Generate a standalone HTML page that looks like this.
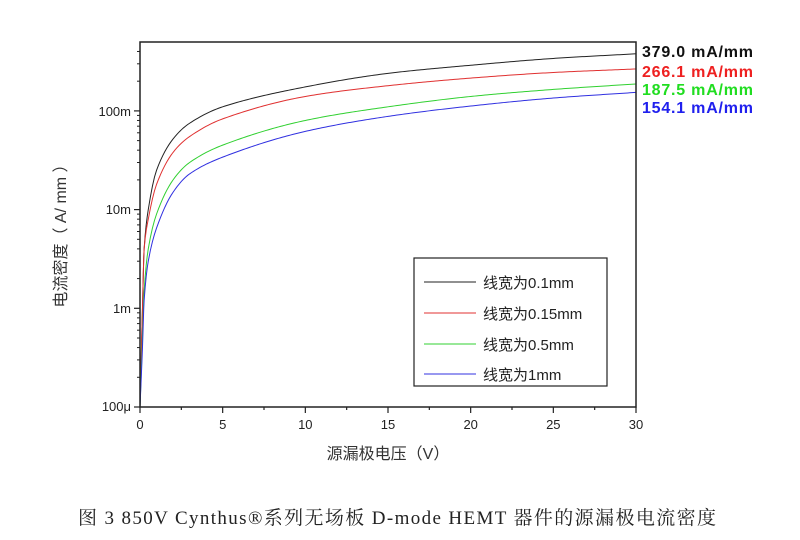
<!DOCTYPE html><html><head><meta charset="utf-8"><style>body{margin:0;background:#fff}svg{display:block}</style></head><body>
<svg id="s" width="800" height="540" xmlns="http://www.w3.org/2000/svg" font-family="Liberation Sans, Noto Sans CJK SC, sans-serif">
<rect width="800" height="540" fill="#fff"/>
<g id="curves" fill="none" stroke-width="1"></g>
<rect x="140" y="42" width="496" height="365" fill="none" stroke="#222" stroke-width="1.5"/>
<g id="ticks" stroke="#222"></g>
<g font-size="13" fill="#222" text-anchor="end">
<text x="131" y="116">100m</text><text x="131" y="214">10m</text><text x="131" y="313">1m</text><text x="131" y="411">100μ</text>
</g>
<g font-size="13" fill="#222" text-anchor="middle">
<text x="140" y="429">0</text><text x="222.7" y="429">5</text><text x="305.3" y="429">10</text><text x="388" y="429">15</text><text x="470.7" y="429">20</text><text x="553.3" y="429">25</text><text x="636" y="429">30</text>
</g>
<text x="388" y="459" font-size="16" fill="#333" text-anchor="middle">源漏极电压（V）</text>
<text transform="translate(66,232) rotate(-90)" font-size="16" fill="#333" text-anchor="middle">电流密度（ A/ mm ）</text>
<rect x="414" y="258" width="193" height="128" fill="#fff" stroke="#222" stroke-width="1.2"/>
<g stroke-width="1"><line x1="424" y1="282" x2="476" y2="282" stroke="#222"/><line x1="424" y1="313" x2="476" y2="313" stroke="#e03030"/><line x1="424" y1="344" x2="476" y2="344" stroke="#30d030"/><line x1="424" y1="374" x2="476" y2="374" stroke="#3030e0"/></g>
<g font-size="15" fill="#222"><text x="483" y="288">线宽为0.1mm</text><text x="483" y="319">线宽为0.15mm</text><text x="483" y="350">线宽为0.5mm</text><text x="483" y="380">线宽为1mm</text></g>
<g font-size="16" font-weight="bold"><text x="642" y="57" fill="#111" textLength="111">379.0 mA/mm</text><text x="642" y="77" fill="#ee2020" textLength="111">266.1 mA/mm</text><text x="642" y="95" fill="#20dd20" textLength="111">187.5 mA/mm</text><text x="642" y="113" fill="#2020ee" textLength="111">154.1 mA/mm</text></g>
<text x="78" y="524" font-size="19" fill="#222" textLength="638" font-family="Liberation Serif, Noto Serif CJK SC, serif">图 3 850V Cynthus®系列无场板 D-mode HEMT 器件的源漏极电流密度</text>
</svg>
<script>
(function(){
function X(v){return 140+v*496/30;}
function Y(i){return 407-98.7*(Math.log10(i)+4);}
var t=document.getElementById("ticks"),h="";
for(var d=0;d<4;d++){for(var k=1;k<10;k++){var y=Y(1e-4*Math.pow(10,d)*k);if(y<42)break;var L=k==1?6:3;h+='<line x1="'+(140-L)+'" y1="'+y+'" x2="140" y2="'+y+'" stroke-width="'+(k==1?1.2:1)+'"/>';}}
for(var v=0;v<=30;v+=2.5){var L=(v%5==0)?6:3;h+='<line x1="'+X(v)+'" y1="407" x2="'+X(v)+'" y2="'+(407+L)+'" stroke-width="1.2"/>';}
t.innerHTML=h;
var data=[
["#222",[[0,1e-4],[0.15,1e-3],[0.25,4e-3],[0.5,1e-2],[1,25e-3],[2,52e-3],[3,75e-3],[5,110e-3],[10,175e-3],[15,240e-3],[20,290e-3],[25,340e-3],[30,379e-3]]],
["#e03030",[[0,1e-4],[0.15,1e-3],[0.25,4e-3],[0.5,8e-3],[1,18e-3],[2,38e-3],[3,55e-3],[5,83e-3],[10,140e-3],[15,180e-3],[20,215e-3],[25,245e-3],[30,266e-3]]],
["#30d030",[[0,1e-4],[0.15,5e-4],[0.25,1.5e-3],[0.5,4e-3],[1,9e-3],[2,20e-3],[3,30e-3],[5,45e-3],[10,80e-3],[15,110e-3],[20,140e-3],[25,165e-3],[30,187.5e-3]]],
["#3030e0",[[0,1e-4],[0.15,4e-4],[0.25,1.2e-3],[0.5,3e-3],[1,6.5e-3],[2,15e-3],[3,23e-3],[5,34e-3],[10,62e-3],[15,88e-3],[20,112e-3],[25,135e-3],[30,154e-3]]]];
var g=document.getElementById("curves"),out="";
data.forEach(function(s){
 var p=s[1],n=p.length,xs=[],ys=[],i;
 for(i=0;i<n;i++){xs.push(p[i][0]);ys.push(Math.log10(p[i][1]));}
 var dl=[],m=[];
 for(i=0;i<n-1;i++)dl.push((ys[i+1]-ys[i])/(xs[i+1]-xs[i]));
 m[0]=dl[0];m[n-1]=dl[n-2];
 for(i=1;i<n-1;i++){m[i]=(dl[i-1]*dl[i]<=0)?0:2/(1/dl[i-1]+1/dl[i]);}
 var pts=[];
 for(i=0;i<n-1;i++){var hh=xs[i+1]-xs[i],N=Math.max(4,Math.ceil(hh*8));
  for(var j=0;j<N;j++){var tt=j/N,t2=tt*tt,t3=t2*tt;
   var yy=(2*t3-3*t2+1)*ys[i]+(t3-2*t2+tt)*hh*m[i]+(-2*t3+3*t2)*ys[i+1]+(t3-t2)*hh*m[i+1];
   var xv=xs[i]+tt*hh;pts.push(X(xv).toFixed(2)+","+(407-98.7*(yy+4)).toFixed(2));}}
 pts.push(X(30).toFixed(2)+","+Y(p[n-1][1]).toFixed(2));
 out+='<polyline stroke="'+s[0]+'" points="'+pts.join(" ")+'"/>';
});
g.innerHTML=out;
})();
</script>
</body></html>
